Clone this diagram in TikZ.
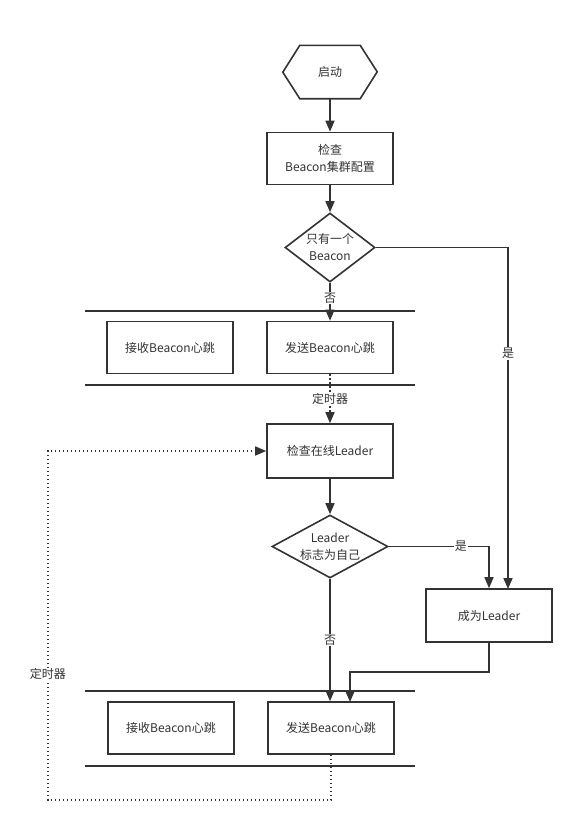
\documentclass[tikz,border=0pt]{standalone}
\usepackage{fontspec}
\setmainfont{Noto Sans CJK SC}
\usetikzlibrary{arrows.meta,shapes.geometric}
\definecolor{ink}{HTML}{333333}
\begin{document}
\begin{tikzpicture}[x=1pt,y=-1pt,
  every node/.style={text=ink,font=\fontsize{12}{17}\selectfont},
  ln/.style={draw=ink,line width=1.6pt},
  arr/.style={ln,-{Triangle[length=11pt,width=9pt]}},
  dotline/.style={draw=ink,line width=1.6pt,dash pattern=on 1.6pt off 2.4pt},
  boxnode/.style={draw=ink,line width=1.6pt,minimum width=126pt,minimum height=52pt,align=center,inner sep=0pt},
  decision/.style={draw=ink,line width=1.6pt,diamond,inner sep=0pt},
  lbl/.style={fill=white,inner sep=1pt}
]
\useasboundingbox[fill=white] (0,0) rectangle (584,831);

% start hexagon
\node[minimum width=60pt,minimum height=53pt,inner sep=0pt] (start) at (330,72) {启动};
\draw[ln,line join=miter] (start.north west) -- (start.north east) -- ++(17,26.5) -- (start.south east) -- (start.south west) -- ++(-17,-26.5) -- cycle;

\node[boxnode] (cfg) at (330,158.5) {检查\\Beacon集群配置};

\node[decision,minimum width=90pt,minimum height=69pt,label={[align=center,text=ink,font=\fontsize{12}{17}\selectfont]center:只有一个\\Beacon}] (d1) at (330,247.5) {};

% group 1
\draw[ln] (85,311) -- (415,311);
\draw[ln] (85,385) -- (415,385);
\node[boxnode] (recv1) at (170,347.5) {接收Beacon心跳};
\node[boxnode] (send1) at (330,347.5) {发送Beacon心跳};

\node[boxnode,minimum height=54pt] (check) at (330,451) {检查在线Leader};

\node[decision,minimum width=116pt,minimum height=63pt,label={[align=center,text=ink,font=\fontsize{12}{17}\selectfont]center:Leader\\标志为自己}] (d2) at (330,546.5) {};

\node[boxnode,minimum height=53pt] (leader) at (489,615.5) {成为Leader};

% group 2
\draw[ln] (85,691) -- (415,691);
\draw[ln] (85,766) -- (415,766);
\node[boxnode] (recv2) at (171,728) {接收Beacon心跳};
\node[boxnode] (send2) at (331,728) {发送Beacon心跳};

% connectors
\draw[arr] (start.south) -- (cfg.north);
\draw[arr] (cfg.south) -- (d1.north);
\draw[arr] (d1.south) -- node[lbl,pos=0.4] {否} (send1.north);
\draw[dotline,-{Triangle[length=11pt,width=9pt]}] (send1.south) -- node[lbl] {定时器} (check.north);
\draw[arr] (check.south) -- (d2.north);

\coordinate (r1) at (508,247.5);
\coordinate (r1b) at (508,589);
\draw[arr] (d1.east) -- (r1) -- node[lbl,pos=0.31] {是} (r1b);

\coordinate (r2) at (489,546.5);
\draw[arr] (d2.east) -- node[lbl,pos=0.72] {是} (r2) -- (leader.north);

\draw[arr] (d2.south) -- node[lbl,pos=0.5] {否} (d2.south |- send2.north);

\coordinate (m1) at (489,672);
\coordinate (m2) at (350,672);
\coordinate (m3) at (350,702);
\draw[arr] (leader.south) -- (m1) -- (m2) -- (m3);

\coordinate (lp1) at (331,800);
\coordinate (lp2) at (48,800);
\coordinate (lp3) at (48,451);
\draw[dotline,-{Triangle[length=11pt,width=9pt]}] (send2.south) -- (lp1) -- (lp2) -- node[lbl,pos=0.36] {定时器} (lp3) -- (check.west);
\end{tikzpicture}
\end{document}
